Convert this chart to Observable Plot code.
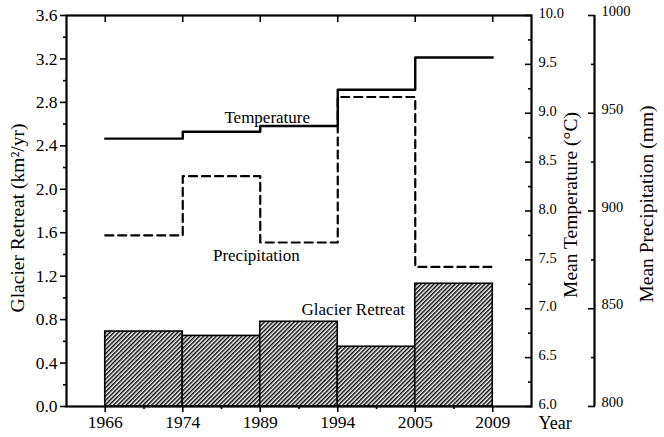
<!DOCTYPE html>
<html>
<head>
<meta charset="utf-8">
<script src="https://cdn.jsdelivr.net/npm/d3@7"></script>
<script src="https://cdn.jsdelivr.net/npm/@observablehq/plot@0.6"></script>
<style>
  html, body { margin: 0; padding: 0; background: white; }
</style>
</head>
<body>
<div id="chart"></div>
<script>
// ---- data ----
const years = ["1966", "1974", "1989", "1994", "2005", "2009"];
const retreat = [0.69, 0.65, 0.78, 0.55, 1.13];          // km^2/yr per period
const temperature = [8.74, 8.81, 8.87, 9.24, 9.57];      // °C per period
const precipitation = [887.5, 917.8, 883.9, 958.3, 871.4]; // mm per period

const retreatTicks = [0, 0.4, 0.8, 1.2, 1.6, 2.0, 2.4, 2.8, 3.2, 3.6];
const retreatMinor = [0.2, 0.6, 1.0, 1.4, 1.8, 2.2, 2.6, 3.0, 3.4];
const tempTicks = [6.0, 6.5, 7.0, 7.5, 8.0, 8.5, 9.0, 9.5, 10.0];
const tempMinor = [6.25, 6.75, 7.25, 7.75, 8.25, 8.75, 9.25, 9.75];
const precipTicks = [800, 850, 900, 950, 1000];
const precipMinor = [825, 875, 925, 975];

const labelText = ["Temperature", "Precipitation", "Glacier Retreat"];
const labelX = [2.09, 1.95, 3.2];     // in period-index units
const labelY = [2.66, 1.39, 0.895];   // in glacier-retreat units

// ---- scale mapping helpers (shared y scale) ----
const yMax = 3.6;
const tempDomain = [6, 10];
const precDomain = [800, 1000];
const tempToY = t => (t - tempDomain[0]) / (tempDomain[1] - tempDomain[0]) * yMax;
const yToTemp = y => tempDomain[0] + y / yMax * (tempDomain[1] - tempDomain[0]);
const precToY = p => (p - precDomain[0]) / (precDomain[1] - precDomain[0]) * yMax;
const yToPrec = y => precDomain[0] + y / yMax * (precDomain[1] - precDomain[0]);

const periods = retreat.map((r, i) => ({i, retreat: r, temp: temperature[i], prec: precipitation[i]}));
const stepPts = periods.concat([{i: periods.length, temp: temperature[temperature.length - 1], prec: precipitation[precipitation.length - 1]}]);
const labels = labelText.map((t, k) => ({t, x: labelX[k], y: labelY[k]}));

const xMax = years.length - 0.5;
const majorX = years.map((_, i) => i);
const minorX = years.slice(1).map((_, i) => i + 0.5);
const font = "'Liberation Serif', 'Times New Roman', serif";

const blank = () => "";

const chart = Plot.plot({
  width: 664,
  height: 437,
  marginLeft: 66,
  marginRight: 133,
  marginTop: 15,
  marginBottom: 31,
  style: {fontFamily: font, fontSize: "17.5px", color: "black", background: "white", overflow: "visible"},
  x: {domain: [-0.5, xMax]},
  y: {domain: [0, yMax]},
  marks: [
    Plot.rectY(periods, {x1: d => d.i, x2: d => d.i + 1, y: "retreat", fill: "url(#hatch)", stroke: "black", strokeWidth: 1.6}),
    Plot.line(stepPts, {x: "i", y: d => tempToY(d.temp), curve: "step-after", stroke: "black", strokeWidth: 2.4}),
    Plot.line(stepPts, {x: "i", y: d => precToY(d.prec), curve: "step-after", stroke: "black", strokeWidth: 2.2, strokeDasharray: "8,5"}),
    Plot.text(labels, {x: "x", y: "y", text: "t", fontSize: 17}),
    // left axis
    Plot.axisY({anchor: "left", ticks: retreatTicks, tickFormat: d3.format(".1f"), tickSize: 6, tickPadding: 3, strokeWidth: 1.6, label: null, fontSize: 17.5}),
    Plot.axisY({anchor: "left", ticks: retreatMinor, tickFormat: blank, tickSize: 3, strokeWidth: 1.6, label: null}),
    // temperature axis (on right frame, inward ticks)
    Plot.axisY({anchor: "right", ticks: tempTicks.map(tempToY), tickFormat: blank, tickSize: -7, strokeWidth: 1.6, label: null}),
    Plot.axisY({anchor: "right", ticks: tempMinor.map(tempToY), tickFormat: blank, tickSize: -4, strokeWidth: 1.6, label: null}),
    Plot.axisY({anchor: "right", ticks: tempTicks.map(tempToY), tickFormat: d => d3.format(".1f")(yToTemp(d)), tickSize: 0, tickPadding: 7, dy: -2, label: null, fontSize: 14.5}),
    // precipitation axis (offset to the right)
    Plot.ruleX([xMax], {dx: 63, strokeWidth: 2.2}),
    Plot.axisY({anchor: "right", dx: 63, ticks: precipTicks.map(precToY), tickFormat: blank, tickSize: -7, strokeWidth: 1.6, label: null}),
    Plot.axisY({anchor: "right", dx: 63, ticks: precipMinor.map(precToY), tickFormat: blank, tickSize: -4, strokeWidth: 1.6, label: null}),
    Plot.axisY({anchor: "right", dx: 63, ticks: precipTicks.map(precToY), tickFormat: d => d3.format(".0f")(yToPrec(d)), tickSize: 0, tickPadding: 7, dy: -4, label: null, fontSize: 14.5}),
    // bottom axis
    Plot.axisX({anchor: "bottom", ticks: majorX, tickFormat: i => years[i], tickSize: 6, tickPadding: 3, strokeWidth: 1.6, label: null, fontSize: 17.5}),
    Plot.axisX({anchor: "bottom", ticks: minorX, tickFormat: blank, tickSize: 3, strokeWidth: 1.6, label: null}),
    // top inward ticks
    Plot.axisX({anchor: "top", ticks: majorX, tickFormat: blank, tickSize: -6, strokeWidth: 1.6, label: null}),
    Plot.frame({stroke: "black", strokeWidth: 2.2}),
    // titles
    Plot.text(["Glacier Retreat (km\u00B2/yr)"], {frameAnchor: "left", textAnchor: "middle", dx: -49, dy: 7, rotate: -90, fontSize: 19.5}),
    Plot.text(["Mean Temperature (\u00B0C)"], {frameAnchor: "right", textAnchor: "middle", dx: 39, dy: -6, rotate: -90, fontSize: 19.5}),
    Plot.text(["Mean Precipitation (mm)"], {frameAnchor: "right", textAnchor: "middle", dx: 115, dy: -7, rotate: -90, fontSize: 19.5}),
    Plot.text(["Year"], {frameAnchor: "bottom-right", textAnchor: "start", dx: 7, dy: 22, fontSize: 18})
  ]
});

// hatch pattern for the bars
const ns = "http://www.w3.org/2000/svg";
const defs = document.createElementNS(ns, "defs");
defs.innerHTML = '<pattern id="hatch" patternUnits="userSpaceOnUse" width="3" height="3" patternTransform="rotate(45)">' +
  '<rect width="3" height="3" fill="white"/>' +
  '<rect x="0" y="0" width="1.45" height="3" fill="black"/></pattern>';
chart.insertBefore(defs, chart.firstChild);

document.getElementById("chart").appendChild(chart);
</script>
</body>
</html>
